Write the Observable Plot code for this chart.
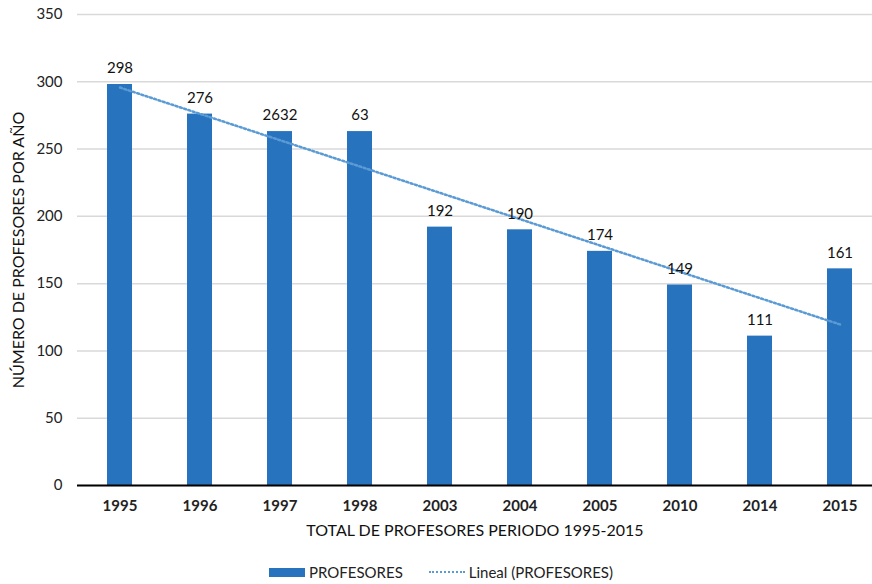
<!DOCTYPE html>
<html>
<head>
<meta charset="utf-8">
<script src="https://cdn.jsdelivr.net/npm/d3@7"></script>
<script src="https://cdn.jsdelivr.net/npm/@observablehq/plot@0.6"></script>
<style>
  body { margin: 0; background: #fff; font-family: Lato, "Open Sans", sans-serif; }
  #legend { display: flex; justify-content: center; align-items: center; gap: 26px; height: 24px; font-size: 15px; color: #222; padding-left: 10px; }
  .item { display: flex; align-items: center; gap: 4px; }
  .sw { width: 36px; height: 9px; background: #2873BE; }
  .dl { width: 36px; height: 0; border-top: 2px dotted #5B9BD5; }
</style>
</head>
<body>
<div id="chart"></div>
<div id="legend">
  <div class="item"><span class="sw"></span><span>PROFESORES</span></div>
  <div class="item"><span class="dl"></span><span>Lineal (PROFESORES)</span></div>
</div>
<script>
const years = ["1995","1996","1997","1998","2003","2004","2005","2010","2014","2015"];
const profesores = [298, 276, 263, 263, 192, 190, 174, 149, 111, 161];
const labels = ["298","276","2632","63","192","190","174","149","111","161"];
const yTicks = [0, 50, 100, 150, 200, 250, 300, 350];

const data = years.map((y, i) => ({year: y, value: profesores[i], label: labels[i], i}));

// linear trend (least squares over category index)
const mx = d3.mean(data, d => d.i), my = d3.mean(profesores);
const slope = d3.sum(data, d => (d.i - mx) * (d.value - my)) / d3.sum(data, d => (d.i - mx) ** 2);
const intercept = my - slope * mx;
const trend = data.map(d => ({year: d.year, value: intercept + slope * d.i}));

const chart = Plot.plot({
  width: 872,
  height: 560,
  marginTop: 14,
  marginBottom: 75,
  marginLeft: 77,
  marginRight: 0,
  style: {fontFamily: "Lato, 'Open Sans', sans-serif", fontSize: "15px", color: "#222"},
  x: {domain: years, range: [77, 881], paddingInner: 0.69, paddingOuter: 0.35},
  y: {domain: [0, 350]},
  marks: [
    Plot.gridY(yTicks, {stroke: "#d9d9d9", strokeOpacity: 1, strokeWidth: 1.5}),
    Plot.barY(data, {x: "year", y: "value", fill: "#2873BE"}),
    Plot.ruleY([0], {stroke: "#000", strokeWidth: 2}),
    Plot.line(trend, {x: "year", y: "value", stroke: "#5B9BD5", strokeWidth: 2.5, strokeDasharray: "2 2.5"}),
    Plot.text(data, {x: "year", y: "value", text: "label", dy: -16, fontSize: 15, fill: "#111"}),
    Plot.axisY({ticks: yTicks, tickSize: 0, tickPadding: 15, label: null, fontSize: 15}),
    Plot.axisX({tickSize: 0, tickPadding: 15, label: null, fontWeight: "bold", fontSize: 15}),
    Plot.text(["TOTAL DE PROFESORES PERIODO 1995-2015"], {frameAnchor: "bottom", dy: 50, fontSize: 16, fill: "#111"}),
    Plot.text(["NÚMERO DE PROFESORES POR AÑO"], {frameAnchor: "left", textAnchor: "middle", dx: -59, rotate: -90, fontSize: 16, fill: "#111"})
  ]
});
document.getElementById("chart").appendChild(chart);
</script>
</body>
</html>
